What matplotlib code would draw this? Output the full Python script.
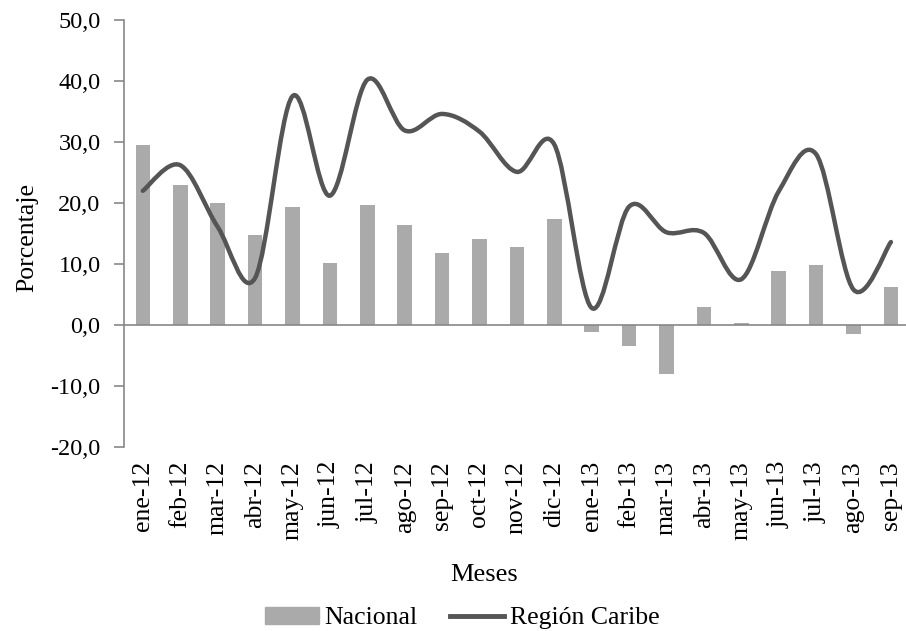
import numpy as np
import matplotlib
matplotlib.use('Agg')
import matplotlib.pyplot as plt
from matplotlib.path import Path
from matplotlib.patches import PathPatch, Patch
from matplotlib.lines import Line2D

# data
meses = ['ene-12', 'feb-12', 'mar-12', 'abr-12', 'may-12', 'jun-12', 'jul-12',
         'ago-12', 'sep-12', 'oct-12', 'nov-12', 'dic-12', 'ene-13', 'feb-13',
         'mar-13', 'abr-13', 'may-13', 'jun-13', 'jul-13', 'ago-13', 'sep-13']
nacional = [29.5, 23.0, 20.0, 14.8, 19.4, 10.2, 19.7, 16.4, 11.8, 14.1, 12.8,
            17.4, -1.2, -3.5, -8.1, 3.0, 0.4, 8.9, 9.9, -1.5, 6.2]
caribe = [22.0, 26.2, 16.1, 7.7, 37.5, 21.2, 40.2, 31.9, 34.6, 31.7, 25.1,
          29.6, 2.8, 19.4, 15.2, 15.1, 7.5, 21.9, 28.0, 5.8, 13.6]

bar_color = '#aaaaaa'
line_color = '#555555'

plt.rcParams['font.family'] = ['Liberation Serif', 'DejaVu Serif']

fig = plt.figure(figsize=(9.06, 6.31), dpi=100)
ax = fig.add_axes([0.137, 0.2916, 0.867, 0.6767])

x = np.arange(len(meses))
ax.bar(x, nacional, width=0.39, color=bar_color, zorder=2)

#smoothed line like excel (bezier segments through the points)
pts = np.column_stack([x, caribe]).astype(float)
verts = [pts[0]]
codes = [Path.MOVETO]
for i in range(len(pts) - 1):
    p0 = pts[i - 1] if i > 0 else pts[i]
    p1 = pts[i]
    p2 = pts[i + 1]
    p3 = pts[i + 2] if i + 2 < len(pts) else pts[i + 1]
    c1 = p1 + (p2 - p0) / 6.0
    c2 = p2 - (p3 - p1) / 6.0
    verts += [c1, c2, p2]
    codes += [Path.CURVE4] * 3
path = Path(verts, codes)
ax.add_patch(PathPatch(path, facecolor='none', edgecolor=line_color, lw=3.2,
                       capstyle='round', zorder=3))

ax.axhline(0, color='#888888', lw=1.2, zorder=2.5)

ax.set_xlim(-0.5, len(meses) - 0.5)
ax.set_ylim(-20, 50)
ax.set_yticks(np.arange(-20, 51, 10))
ax.set_yticklabels([('%.1f' % v).replace('.', ',') for v in np.arange(-20, 51, 10)])
ax.set_xticks(x)
ax.set_xticklabels(meses, rotation=90)

for s in ['top', 'right', 'bottom']:
    ax.spines[s].set_visible(False)
ax.spines['left'].set_color('#888888')
ax.spines['left'].set_linewidth(1.2)
ax.tick_params(axis='y', length=7, color='#888888', width=1.2, labelsize=17.5, pad=10)
ax.tick_params(axis='x', length=0, labelsize=18.5, pad=10)

ax.set_ylabel('Porcentaje', fontsize=18.5)
ax.yaxis.set_label_coords(-0.109, 0.49)
ax.set_xlabel('Meses', fontsize=19)
ax.xaxis.set_label_coords(0.4577, -0.273)

handles = [Patch(color=bar_color), Line2D([0], [0], color=line_color, lw=3.5)]
fig.legend(handles, ['Nacional', 'Región Caribe'], loc='center',
           bbox_to_anchor=(462 / 906, 1 - 618 / 631), ncol=2, frameon=False,
           fontsize=18.5, handlelength=2.1, handletextpad=0.2, columnspacing=1.3,
           borderpad=0.1)

fig.savefig('out.png', dpi=100)
